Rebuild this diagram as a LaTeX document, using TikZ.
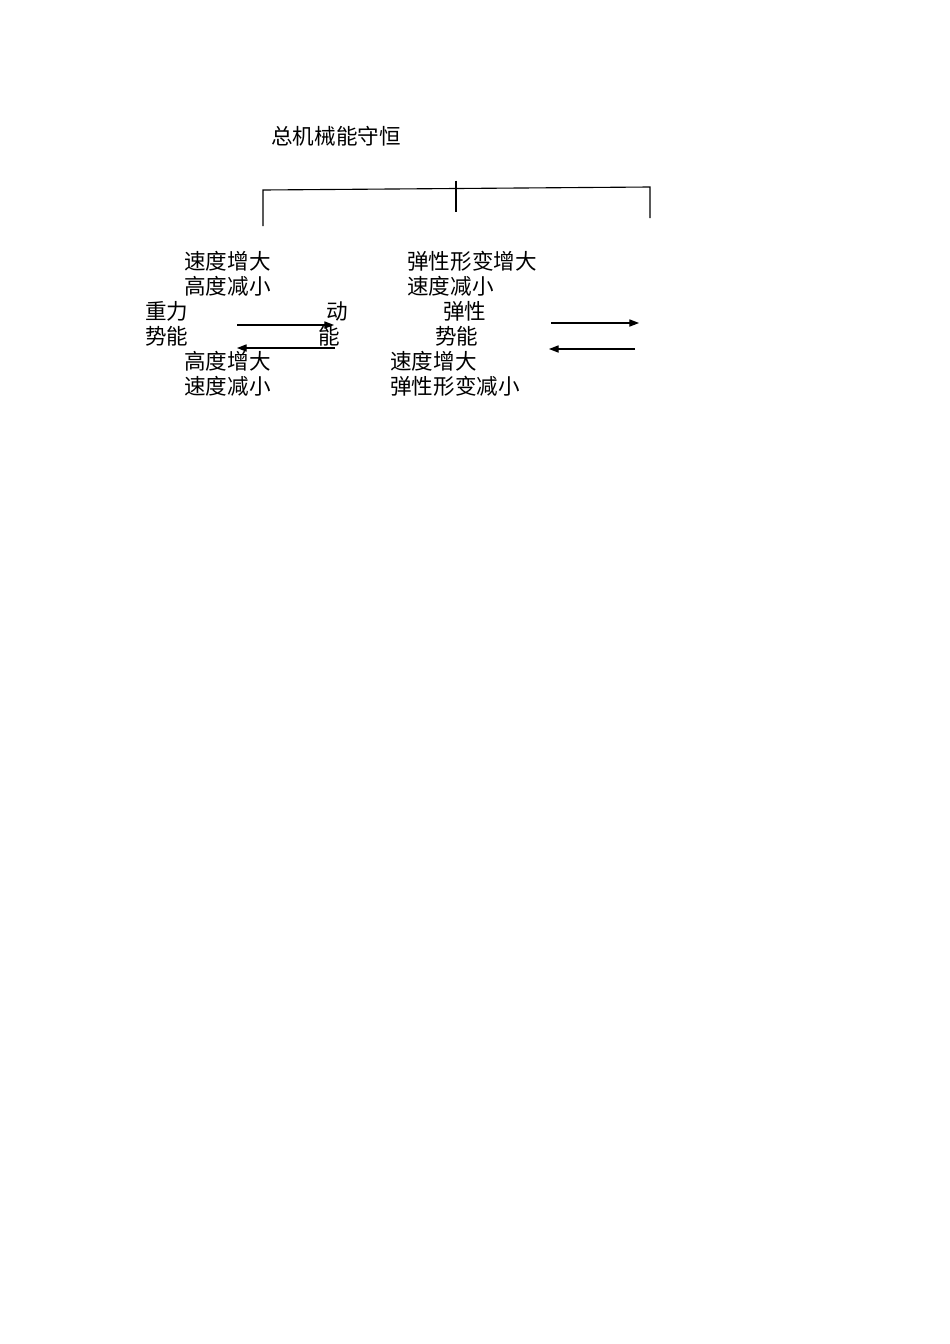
\documentclass[tikz,border=0pt]{standalone}
\usepackage{fontspec}
\setmainfont{Noto Sans CJK SC}
\usetikzlibrary{arrows.meta}
\tikzstyle{arrow} = [line width=0.7pt,-{Triangle[length=6pt,width=4.5pt]}]
\tikzstyle{bar}   = [line width=0.7pt]

\begin{document}
\begin{tikzpicture}[x=0.626pt,y=-0.626pt,
			word/.style={
					anchor=west,
					inner sep=0pt,
					font=\fontsize{13.5}{16}\selectfont
				}
		]
		\useasboundingbox (0,0) rectangle (950,1344);
		\node[word] (total) at (271,136) {总机械能守恒};
		% bracket
		\coordinate (bl) at (263,226);
		\coordinate (tl) at (263,190);
		\coordinate (tr) at (650,187);
		\coordinate (br) at (650,218);
		\coordinate (tickT) at (456,180.5);
		\coordinate (tickB) at (456,211.5);
		\draw[bar] (bl) -- (tl) -- (tr) -- (br);
		\draw[bar] (tickT) -- (tickB);
		% gravity <-> kinetic
		\node[word] (upA) at (184,261) {速度增大};
		\node[word] (upB) at (184,286) {高度减小};
		\node[word] (gravA) at (145,311) {重力};
		\node[word] (gravB) at (145,336) {势能};
		\node[word] (kinA) at (326,311) {动};
		\node[word] (kinB) at (318,336) {能};
		\node[word] (downA) at (184,361) {高度增大};
		\node[word] (downB) at (184,386) {速度减小};
		\coordinate (g1) at (237,325);
		\coordinate (k1) at (334,325);
		\coordinate (k2) at (335,348);
		\coordinate (g2) at (237,348);
		\draw[arrow] (g1) -- (k1);
		\draw[arrow] (k2) -- (g2);
		% elastic <-> kinetic
		\node[word] (eupA) at (407,261) {弹性形变增大};
		\node[word] (eupB) at (407,286) {速度减小};
		\node[word] (elaA) at (443,311) {弹性};
		\node[word] (elaB) at (435,336) {势能};
		\node[word] (edownA) at (390,361) {速度增大};
		\node[word] (edownB) at (390,386) {弹性形变减小};
		\coordinate (e1) at (551,323);
		\coordinate (r1) at (639,323);
		\coordinate (r2) at (635,349);
		\coordinate (e2) at (549,349);
		\draw[arrow] (e1) -- (r1);
		\draw[arrow] (r2) -- (e2);
	\end{tikzpicture}
\end{document}
